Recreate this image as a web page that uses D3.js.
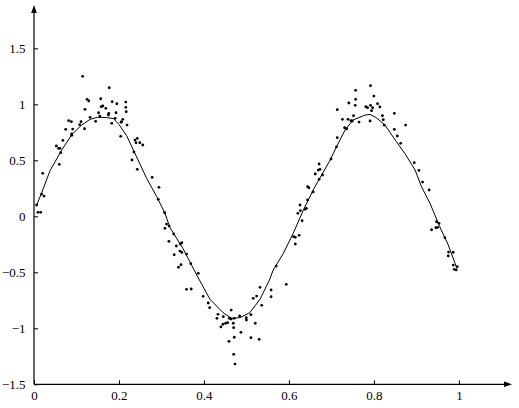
<!DOCTYPE html>
<html><head><meta charset="utf-8">
<script src="https://cdn.jsdelivr.net/npm/d3@7"></script>
<style>
html,body{margin:0;padding:0;background:#fff;}
svg{display:block;}
</style></head>
<body>
<svg id="chart" width="519" height="408"></svg>
<script>
// ---- data ----
const xTickValues = [0, 0.2, 0.4, 0.6, 0.8, 1];
const xTickLabels = ["0", "0.2", "0.4", "0.6", "0.8", "1"];
const yTickValues = [-1.5, -1, -0.5, 0, 0.5, 1, 1.5];
const yTickLabels = ["\u22121.5", "\u22121", "\u22120.5", "0", "0.5", "1", "1.5"];

const pointX = [0.0094,0.0157,0.0063,0.018,0.0235,0.0204,0.0596,0.063,0.058,0.061,0.0525,0.068,0.0886,0.089,0.0746,0.091,0.119,0.1075,0.0816,0.088,0.1106,0.132,0.145,0.152,0.155,0.120,0.1145,0.125,0.129,0.157,0.158,0.162,0.169,0.176,0.175,0.177,0.184,0.195,0.193,0.183,0.191,0.206,0.216,0.216,0.217,0.209,0.205,0.219,0.204,0.2376,0.243,0.240,0.249,0.256,0.2353,0.2306,0.243,0.278,0.294,0.2925,0.3075,0.312,0.308,0.318,0.3287,0.3176,0.344,0.348,0.335,0.3435,0.348,0.330,0.359,0.369,0.346,0.340,0.3866,0.359,0.370,0.398,0.410,0.4134,0.464,0.433,0.4306,0.4455,0.4596,0.464,0.4713,0.484,0.4996,0.500,0.5106,0.451,0.4557,0.440,0.4447,0.469,0.4698,0.5208,0.487,0.4588,0.4713,0.5106,0.530,0.470,0.473,0.532,0.524,0.516,0.558,0.558,0.536,0.5937,0.570,0.611,0.615,0.624,0.615,0.631,0.621,0.627,0.638,0.641,0.626,0.644,0.657,0.644,0.647,0.671,0.679,0.662,0.669,0.673,0.671,0.699,0.712,0.7137,0.731,0.736,0.726,0.739,0.746,0.749,0.765,0.752,0.7137,0.741,0.756,0.757,0.757,0.792,0.800,0.8086,0.814,0.781,0.785,0.792,0.797,0.7945,0.791,0.820,0.822,0.824,0.848,0.8746,0.848,0.855,0.863,0.895,0.906,0.9145,0.930,0.9475,0.953,0.950,0.9357,0.946,0.967,0.9757,0.9866,0.975,0.9866,0.996,0.989,0.9937];
const pointY = [0.036,0.036,0.101,0.199,0.181,0.384,0.464,0.568,0.607,0.607,0.628,0.678,0.735,0.723,0.777,0.779,0.782,0.818,0.854,0.845,0.845,0.884,0.848,0.925,0.895,0.955,1.25,1.045,1.03,1.05,0.979,0.985,0.964,0.92,0.904,1.148,1.023,1.005,0.925,0.83,0.875,0.845,1.02,0.973,0.934,0.866,0.839,0.815,0.714,0.681,0.696,0.657,0.657,0.637,0.574,0.503,0.42,0.348,0.259,0.152,0.032,-0.069,-0.107,-0.087,-0.158,-0.223,-0.247,-0.236,-0.265,-0.31,-0.322,-0.343,-0.337,-0.423,-0.432,-0.455,-0.509,-0.652,-0.649,-0.714,-0.774,-0.816,-0.837,-0.875,-0.911,-0.896,-0.911,-0.917,-0.911,-0.89,-0.905,-0.926,-0.878,-0.955,-0.95,-0.988,-0.964,-0.955,-0.994,-0.955,-1.036,-1.116,-1.08,-1.084,-1.098,-1.232,-1.319,-0.634,-0.712,-0.732,-0.658,-0.718,-0.795,-0.607,-0.444,-0.182,-0.1875,-0.17,-0.247,-0.039,0.027,0.05,0.0625,0.071,0.101,0.146,0.217,0.264,0.255,0.33,0.369,0.378,0.413,0.42,0.467,0.512,0.621,0.702,0.791,0.782,0.866,0.866,0.854,0.851,0.842,0.899,0.952,1.012,0.991,1.045,1.125,1.166,1.074,1.005,0.976,0.979,0.97,0.991,0.97,0.943,0.851,0.899,0.863,0.815,0.92,0.815,0.777,0.717,0.652,0.479,0.41,0.306,0.235,-0.048,-0.0625,-0.098,-0.12,-0.102,-0.191,-0.319,-0.321,-0.354,-0.435,-0.45,-0.473,-0.479];

const curveX = [0.005,0.018,0.038,0.065,0.089,0.112,0.132,0.150,0.170,0.187,0.200,0.218,0.236,0.265,0.289,0.308,0.320,0.351,0.383,0.414,0.445,0.465,0.485,0.508,0.532,0.554,0.563,0.587,0.610,0.634,0.657,0.677,0.697,0.712,0.732,0.751,0.779,0.791,0.806,0.826,0.853,0.873,0.897,0.912,0.932,0.955,0.975,0.991,0.995];
const curveY = [0.09,0.21,0.41,0.59,0.73,0.815,0.866,0.884,0.882,0.873,0.82,0.72,0.575,0.34,0.175,0.03,-0.1,-0.29,-0.524,-0.74,-0.86,-0.911,-0.905,-0.86,-0.74,-0.569,-0.48,-0.33,-0.152,0.056,0.235,0.369,0.503,0.621,0.77,0.86,0.904,0.91,0.88,0.815,0.666,0.56,0.413,0.264,0.116,-0.093,-0.256,-0.42,-0.464];

// ---- chart ----
const FONT = "'Liberation Serif'";
const svg = d3.select("#chart");
const x = d3.scaleLinear().domain([0, 1.125]).range([34, 512]);
const y = d3.scaleLinear().domain([-1.5, 1.887]).range([384.3, 5]);

const xAxis = d3.axisBottom(x).tickValues(xTickValues)
  .tickFormat((d, i) => xTickLabels[i]).tickSizeInner(-4).tickSizeOuter(0).tickPadding(6.5);
const gx = svg.append("g").attr("transform", `translate(0,${y(-1.5)})`).call(xAxis);
gx.select(".domain").remove();
gx.selectAll("text").style("font-family", FONT).style("font-size", "13px").attr("fill", "#000");
gx.selectAll("line").attr("stroke", "#000");

const yAxis = d3.axisLeft(y).tickValues(yTickValues)
  .tickFormat((d, i) => yTickLabels[i]).tickSizeInner(-4).tickSizeOuter(0).tickPadding(8.5);
const gy = svg.append("g").attr("transform", `translate(${x(0)},0)`).call(yAxis);
gy.select(".domain").remove();
gy.selectAll("text").style("font-family", FONT).style("font-size", "13px").attr("fill", "#000");
gy.selectAll("line").attr("stroke", "#000");

// axis lines with arrows
const x0 = x(0), y0 = y(-1.5), xEnd = x(1.125), yEnd = y(1.887);
svg.append("line").attr("x1", x0).attr("y1", y0).attr("x2", xEnd - 4).attr("y2", y0)
  .attr("stroke", "#000").attr("stroke-width", 1.2);
svg.append("line").attr("x1", x0).attr("y1", y0).attr("x2", x0).attr("y2", yEnd + 4)
  .attr("stroke", "#000").attr("stroke-width", 1.2);
svg.append("path").attr("d", `M${xEnd},${y0} L${xEnd-8},${y0-2.8} L${xEnd-8},${y0+2.8} Z`).attr("fill", "#000");
svg.append("path").attr("d", `M${x0},${yEnd} L${x0-2.8},${yEnd+8} L${x0+2.8},${yEnd+8} Z`).attr("fill", "#000");

// curve
const curveData = curveX.map((d, i) => [d, curveY[i]]);
svg.append("path").datum(curveData)
  .attr("d", d3.line().x(d => x(d[0])).y(d => y(d[1])))
  .attr("fill", "none").attr("stroke", "#000").attr("stroke-width", 1);

// points
const pts = pointX.map((d, i) => [d, pointY[i]]);
svg.append("g").selectAll("circle").data(pts).join("circle")
  .attr("cx", d => x(d[0])).attr("cy", d => y(d[1])).attr("r", 1.4).attr("fill", "#000");
</script>
</body></html>
